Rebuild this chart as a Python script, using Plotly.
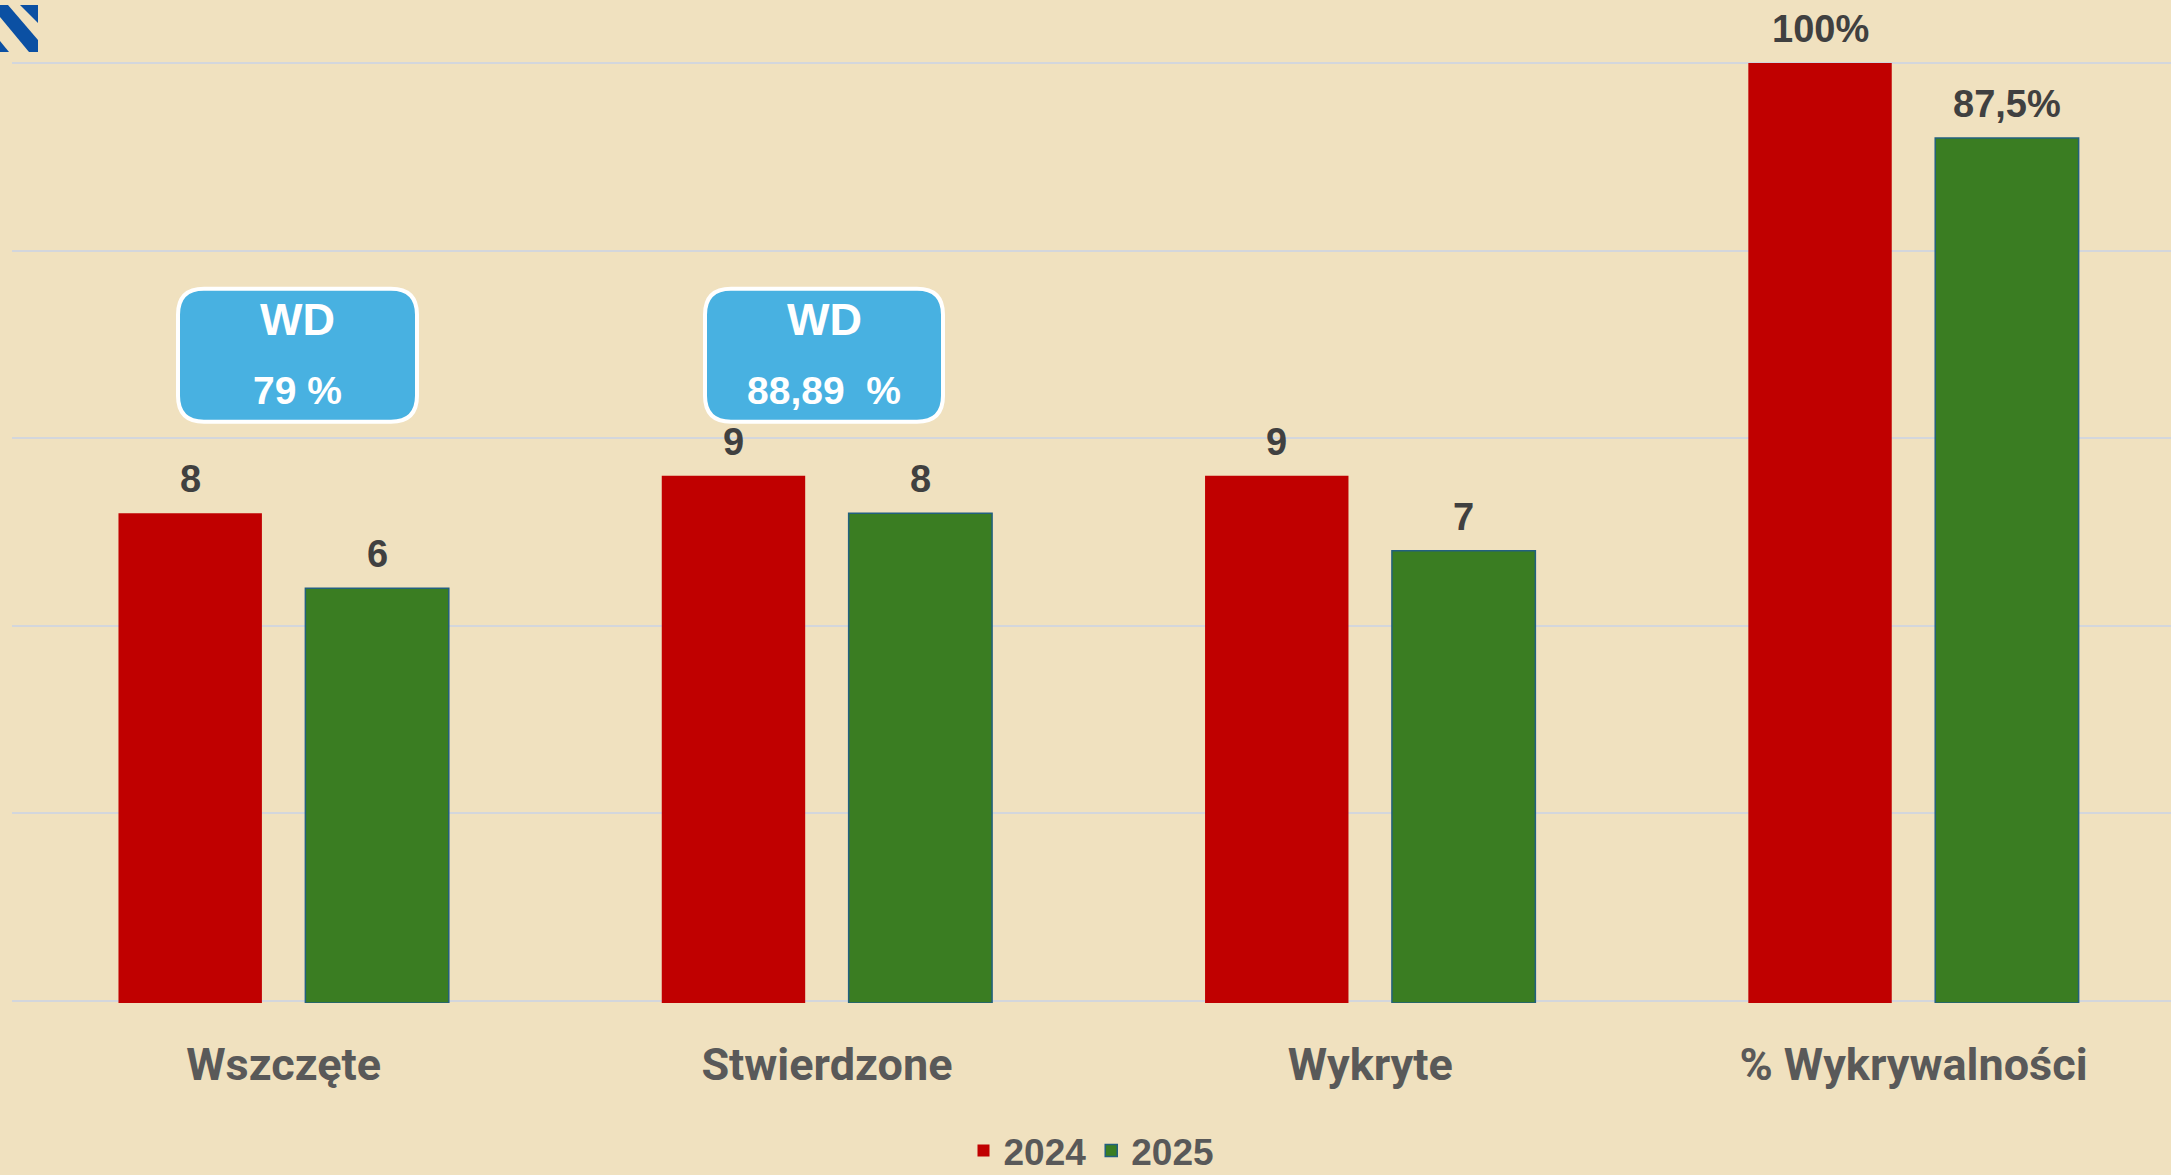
import plotly.graph_objects as go

# ---------------- data ----------------
categories = ["Wszczęte", "Stwierdzone", "Wykryte", "% Wykrywalności"]
count_categories = categories[:3]
pct_categories = categories[3:]
series_names = ["2024", "2025"]
counts_2024 = [8, 9, 9]
counts_2025 = [6, 8, 7]
pct_2024 = [100]
pct_2025 = [87.5]
pct_labels_2024 = ["100%"]
pct_labels_2025 = ["87,5%"]
wd_titles = ["WD", "WD"]
wd_values = ["79 %", "88,89\u00a0\u00a0%"]

# ---------------- layout constants ----------------
W, H = 2171, 1175
ML, MR, MT, MB = 12, 0, 61.1, 171.6
PW = W - ML - MR
PH = H - MT - MB

COUNT_RANGE = [-5.05, 20.05]
PCT_RANGE = [-56.5625, 100.3125]
X_RANGE = [-0.5, 3.474]
COUNT_FLOOR = COUNT_RANGE[0]
PCT_FLOOR = PCT_RANGE[0]

RED = "#C00000"
GREEN = "#3A7D22"
GREEN_EDGE = "#22607F"
LABEL_DARK = "#404040"
LABEL_GRAY = "#595959"
BG = "#F0E1BF"
GRID = "#D3D6DC"
BOX_BLUE = "#48B1E1"
FONT = "Roboto, Liberation Sans, Arial, sans-serif"
FONT_NUM = "Liberation Sans, Arial, sans-serif"

BAR_W = 0.264
OFF_RED = -0.304
OFF_GREEN = 0.040


def px_x(p):
    return (p - ML) / PW


def px_y(q):
    return (H - MB - q) / PH


fig = go.Figure()

# count bars (2024 / 2025)
fig.add_trace(go.Bar(
    x=count_categories, y=[v - COUNT_FLOOR for v in counts_2024], base=COUNT_FLOOR,
    offset=OFF_RED, width=BAR_W, name=series_names[0], legendgroup=series_names[0],
    marker=dict(color=RED, line=dict(width=0)), customdata=counts_2024,
    hovertemplate="%{x}: %{customdata}<extra>2024</extra>", yaxis="y"))
fig.add_trace(go.Bar(
    x=count_categories, y=[v - COUNT_FLOOR for v in counts_2025], base=COUNT_FLOOR,
    offset=OFF_GREEN, width=BAR_W, name=series_names[1], legendgroup=series_names[1],
    marker=dict(color=GREEN, line=dict(width=1.5, color=GREEN_EDGE)), customdata=counts_2025,
    hovertemplate="%{x}: %{customdata}<extra>2025</extra>", yaxis="y"))
# percentage bars on secondary scale
fig.add_trace(go.Bar(
    x=pct_categories, y=[v - PCT_FLOOR for v in pct_2024], base=PCT_FLOOR,
    offset=OFF_RED, width=BAR_W, name=series_names[0], legendgroup=series_names[0], showlegend=False,
    marker=dict(color=RED, line=dict(width=0)), customdata=pct_labels_2024,
    hovertemplate="%{x}: %{customdata}<extra>2024</extra>", yaxis="y2"))
fig.add_trace(go.Bar(
    x=pct_categories, y=[v - PCT_FLOOR for v in pct_2025], base=PCT_FLOOR,
    offset=OFF_GREEN, width=BAR_W, name=series_names[1], legendgroup=series_names[1], showlegend=False,
    marker=dict(color=GREEN, line=dict(width=1.5, color=GREEN_EDGE)), customdata=pct_labels_2025,
    hovertemplate="%{x}: %{customdata}<extra>2025</extra>", yaxis="y2"))

annotations = []
label_font = dict(family=FONT_NUM, size=38, color=LABEL_DARK)
LBL_SHIFT = 11
for i, v in enumerate(counts_2024):
    annotations.append(dict(x=i + OFF_RED + BAR_W / 2, y=v, xref="x", yref="y", text=f"<b>{v}</b>",
                            showarrow=False, yanchor="bottom", yshift=LBL_SHIFT, font=label_font))
for i, v in enumerate(counts_2025):
    annotations.append(dict(x=i + OFF_GREEN + BAR_W / 2, y=v, xref="x", yref="y", text=f"<b>{v}</b>",
                            showarrow=False, yanchor="bottom", yshift=LBL_SHIFT, font=label_font))
base_i = len(count_categories)
for j, (v, t) in enumerate(zip(pct_2024, pct_labels_2024)):
    annotations.append(dict(x=base_i + j + OFF_RED + BAR_W / 2, y=v, xref="x", yref="y2", text=f"<b>{t}</b>",
                            showarrow=False, yanchor="bottom", yshift=LBL_SHIFT, font=label_font))
for j, (v, t) in enumerate(zip(pct_2025, pct_labels_2025)):
    annotations.append(dict(x=base_i + j + OFF_GREEN + BAR_W / 2, y=v, xref="x", yref="y2", text=f"<b>{t}</b>",
                            showarrow=False, yanchor="bottom", yshift=LBL_SHIFT, font=label_font))

# WD callout boxes (pixel geometry)
boxes = [(178, 289, 417, 422), (705, 289, 943, 422)]
R = 26
shapes = []
for (x0, y0, x1, y1), title, val in zip(boxes, wd_titles, wd_values):
    pts = [("M", x0 + R, y0), ("L", x1 - R, y0), ("Q", x1, y0, x1, y0 + R), ("L", x1, y1 - R),
           ("Q", x1, y1, x1 - R, y1), ("L", x0 + R, y1), ("Q", x0, y1, x0, y1 - R),
           ("L", x0, y0 + R), ("Q", x0, y0, x0 + R, y0)]
    path = ""
    for p in pts:
        cmd = p[0]
        coords = p[1:]
        s = []
        for k in range(0, len(coords), 2):
            s.append(f"{px_x(coords[k]):.6f},{px_y(coords[k+1]):.6f}")
        path += cmd + " " + " ".join(s) + " "
    path += "Z"
    shapes.append(dict(type="path", xref="paper", yref="paper", path=path,
                       fillcolor=BOX_BLUE, line=dict(color="white", width=4), layer="above"))
    cx = (x0 + x1) / 2
    annotations.append(dict(x=px_x(cx), y=px_y(320), xref="paper", yref="paper", text=f"<b>{title}</b>",
                            showarrow=False, xanchor="center", yanchor="middle",
                            font=dict(family=FONT_NUM, size=45, color="white")))
    annotations.append(dict(x=px_x(cx), y=px_y(391), xref="paper", yref="paper", text=f"<b>{val}</b>",
                            showarrow=False, xanchor="center", yanchor="middle",
                            font=dict(family=FONT_NUM, size=39, color="white")))

# small logo fragment in the top-left corner
logo_polys = [
    [(20, 5), (38, 5), (38, 23)],
    [(0, 5), (8, 5), (38, 40), (38, 52), (29, 52), (0, 17)],
    [(0, 41), (0, 52), (9, 52)],
]
for poly in logo_polys:
    path = "M " + " L ".join(f"{px_x(a):.6f},{px_y(b):.6f}" for a, b in poly) + " Z"
    shapes.append(dict(type="path", xref="paper", yref="paper", path=path,
                       fillcolor="#0B50A3", line=dict(width=0), layer="above"))

fig.update_layout(
    width=W, height=H,
    margin=dict(l=ML, r=MR, t=MT, b=MB, pad=0, autoexpand=False),
    paper_bgcolor=BG, plot_bgcolor="rgba(0,0,0,0)",
    barmode="group",
    font=dict(family=FONT, color=LABEL_GRAY),
    xaxis=dict(type="category", categoryorder="array", categoryarray=categories,
               range=X_RANGE, showgrid=False, zeroline=False, showline=False, ticks="",
               tickfont=dict(family=FONT, size=45, color=LABEL_GRAY, weight="bold"),
               ticklabelstandoff=31, automargin=False),
    yaxis=dict(range=COUNT_RANGE, tick0=-5, dtick=5, showticklabels=False, automargin=False,
               showgrid=True, gridcolor=GRID, gridwidth=2, zeroline=False, showline=False, ticks=""),
    yaxis2=dict(range=PCT_RANGE, overlaying="y", visible=False, showgrid=False, zeroline=False),
    showlegend=True,
    legend=dict(orientation="h", x=0.5, xanchor="center", xref="paper",
                y=1 - 1151 / H, yanchor="middle", yref="container",
                font=dict(family=FONT_NUM, size=37, color=LABEL_GRAY, weight="bold"),
                bgcolor="rgba(0,0,0,0)", itemwidth=30, tracegroupgap=0),
    annotations=annotations,
    shapes=shapes,
    hovermode="closest",
)

fig.write_html("out.html", config={"displayModeBar": False},
               post_script="document.body.style.margin='0';document.body.style.background='" + BG + "';")
